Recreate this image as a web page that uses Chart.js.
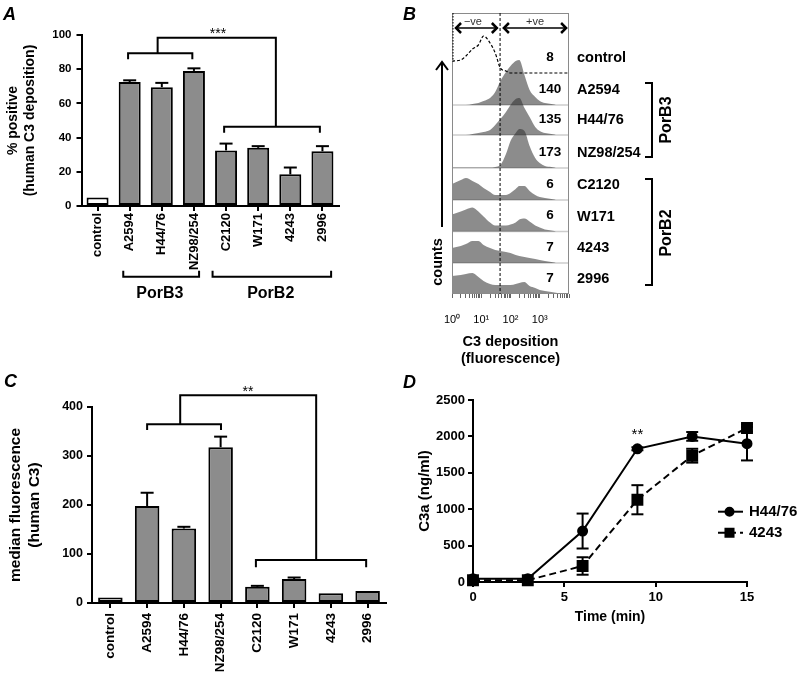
<!DOCTYPE html>
<html>
<head>
<meta charset="utf-8">
<title>C3 deposition on meningococcal PorB3 / PorB2 strains</title>
<script src="https://cdn.jsdelivr.net/npm/chart.js@4.4.1/dist/chart.umd.min.js"></script>
<style>
  html, body { margin: 0; padding: 0; background: #fff; }
  #fig { position: relative; width: 800px; height: 677px; overflow: hidden; background: #fff; }
  #fig canvas { position: absolute; }
</style>
</head>
<body>
<div id="fig">
  <canvas id="chartA" width="400" height="330" style="left:0;top:0"></canvas>
  <canvas id="chartB" width="400" height="370" style="left:400px;top:0"></canvas>
  <canvas id="chartC" width="400" height="347" style="left:0;top:330px"></canvas>
  <canvas id="chartD" width="400" height="347" style="left:400px;top:330px"></canvas>
</div>
<script>
// ---------- data ----------
const strains = ['control', 'A2594', 'H44/76', 'NZ98/254', 'C2120', 'W171', '4243', '2996'];

// A: % positive (human C3 deposition), mean + upper error
const pctPositive = [5, 72.5, 69.5, 79, 32.5, 34, 18.5, 32];
const pctPositiveErr = [0, 1, 2.5, 1.5, 4, 1, 4, 3];

// C: median fluorescence (human C3)
const medianFluor = [11, 198, 152, 318, 33, 49, 20, 24.5];
const medianFluorErr = [0, 27, 3.5, 21.5, 2, 3, 0, 0];

// D: C3a (ng/ml) over time
const timeMin = [0, 3, 6, 9, 12, 15];
const c3aH4476 = [45, 45, 700, 1830, 2000, 1900];
const c3aH4476Err = [0, 0, 240, 20, 60, 230];
const c3a4243 = [25, 25, 220, 1130, 1735, 2115];
const c3a4243Err = [0, 0, 120, 200, 95, 50];

// B: flow cytometry histograms (relative counts per fluorescence bin)
const fluorBins = [1, 2, 3, 5, 8, 12, 20, 30, 45, 70, 100, 150, 200, 300, 450, 700, 1000, 1500, 2500, 4000, 10000];
const histControl = [12, 13, 17, 24, 28, 37, 30, 20, 5, 2, 0, 0, 0, 0, 0, 0, 0, 0, 0, 0, 0];
const histA2594   = [0, 0, 0, 1, 2, 4, 7, 13, 24, 33, 39, 44, 45, 30, 15, 8, 4, 2, 1, 0, 0];
const histH4476   = [0, 0, 0, 1, 2, 3, 5, 10, 16, 23, 30, 36, 37, 27, 18, 8, 4, 2, 1, 0, 0];
const histNZ98    = [0.5, 0.5, 0.5, 0.5, 0.5, 0.5, 0.5, 1, 3, 14, 27, 35, 39, 37, 22, 10, 5, 2, 1, 0, 0];
const histC2120   = [16, 20, 22, 19, 16, 12, 8, 5, 5, 5, 7, 11, 14, 14, 9, 5, 3, 2, 1, 0, 0];
const histW171    = [17, 20, 22, 24, 20, 15, 9, 6, 6, 6, 7, 9, 12, 13, 10, 6, 4, 2, 1, 0, 0];
const hist4243    = [15, 17, 19, 22, 22, 18, 15, 13, 12, 11, 10, 8, 7, 6, 5, 4, 3, 2, 1, 0, 0];
const hist2996    = [18, 19, 20, 21, 17, 13, 10, 9, 9, 9, 9, 10, 11, 12, 8, 6, 4, 3, 2, 1, 0];
const rowOffsets = [221, 189, 159, 126, 94, 62.5, 31, 0];
const medianValues = ['8', '140', '135', '173', '6', '6', '7', '7'];
const gateFluor = 44;
const logTicks = [1, 2, 3, 4, 5, 6, 7, 8, 9, 10, 20, 30, 40, 50, 60, 70, 80, 90, 100,
  200, 300, 400, 500, 600, 700, 800, 900, 1000, 2000, 3000, 4000, 5000, 6000, 7000, 8000, 9000, 10000];
const logTickLabels = { 1: '10\u2070', 10: '10\u00b9', 100: '10\u00b2', 1000: '10\u00b3' };

// ---------- helpers ----------
const FONT = '"Liberation Sans", Arial, Helvetica, sans-serif';
const BAR_FILL = '#8c8c8c';
Chart.defaults.font.family = FONT;
Chart.defaults.color = '#000';
Chart.defaults.animation = false;
Chart.defaults.responsive = false;
Chart.defaults.plugins.legend.display = false;
Chart.defaults.plugins.tooltip.enabled = false;

function font(size, weight = 'bold', style = 'normal') {
  return `${style} ${weight} ${size}px ${FONT}`;
}

function polyline(ctx, pts) {
  ctx.beginPath();
  pts.forEach(([px, py], i) => (i ? ctx.lineTo(px, py) : ctx.moveTo(px, py)));
  ctx.stroke();
}

function text(ctx, str, px, py, opts = {}) {
  ctx.save();
  ctx.font = opts.font || font(14);
  ctx.fillStyle = opts.color || '#000';
  ctx.textAlign = opts.align || 'center';
  ctx.textBaseline = opts.baseline || 'middle';
  ctx.translate(px, py);
  if (opts.rotate) ctx.rotate(opts.rotate);
  ctx.fillText(str, 0, 0);
  ctx.restore();
}

function panelLetter(ctx, letter, px, py) {
  text(ctx, letter, px, py, { font: font(18, 'bold', 'italic'), align: 'left', baseline: 'alphabetic' });
}

// error bars for bar and line charts (drawn under the marks)
const errorBars = {
  id: 'errorBars',
  beforeDatasetsDraw(chart) {
    const { ctx } = chart;
    const yScale = chart.scales.y;
    chart.data.datasets.forEach((ds, di) => {
      if (!ds.errors) return;
      const meta = chart.getDatasetMeta(di);
      ctx.save();
      ctx.strokeStyle = '#000';
      ctx.lineWidth = 2;
      meta.data.forEach((el, i) => {
        const err = ds.errors[i];
        if (!err) return;
        const v = typeof ds.data[i] === 'number' ? ds.data[i] : ds.data[i].y;
        const top = yScale.getPixelForValue(v + err);
        const bottom = ds.twoSided ? yScale.getPixelForValue(v - err) : el.y;
        const half = ds.capHalf || 6.5;
        polyline(ctx, [[el.x, bottom], [el.x, top]]);
        polyline(ctx, [[el.x - half, top], [el.x + half, top]]);
        if (ds.twoSided) polyline(ctx, [[el.x - half, bottom], [el.x + half, bottom]]);
      });
      ctx.restore();
    });
  }
};

function barScales(o) {
  return {
    x: {
      grid: { display: true, drawOnChartArea: false, drawTicks: true, tickLength: 5, offset: false, color: '#000', lineWidth: 2 },
      border: { display: true, color: '#000', width: 2 },
      ticks: { autoSkip: false, minRotation: 90, maxRotation: 90, padding: o.xPad, font: { size: o.xFont, weight: 'bold' } },
      afterFit(s) { s.height = o.xHeight; }
    },
    y: {
      min: 0, max: o.yMax,
      grid: { drawOnChartArea: false, tickLength: 5, color: '#000', lineWidth: 2 },
      border: { color: '#000', width: 2 },
      ticks: { stepSize: o.yStep, padding: o.yPad, font: { size: o.yFont, weight: 'bold' } },
      title: { display: true, text: o.title, font: { size: o.titleFont, weight: 'bold' }, padding: { top: o.titlePad, bottom: 0 } },
      afterFit(s) { s.width = o.yWidth; }
    }
  };
}

// ---------- panel A ----------
const panelAMarks = {
  id: 'panelAMarks',
  afterDraw(chart) {
    const { ctx, chartArea: a, scales: { x, y } } = chart;
    const X = v => x.getPixelForValue(v), Y = v => y.getPixelForValue(v);
    ctx.save();
    ctx.strokeStyle = '#000';
    ctx.lineWidth = 2;
    polyline(ctx, [[X(0.95), Y(85.8)], [X(0.95), Y(89.3)], [X(2.95), Y(89.3)], [X(2.95), Y(85.8)]]);
    polyline(ctx, [[X(1.87), Y(89.3)], [X(1.87), Y(98.4)], [X(5.55), Y(98.4)], [X(5.55), Y(46.4)]]);
    polyline(ctx, [[X(3.94), Y(42.9)], [X(3.94), Y(46.4)], [X(6.92), Y(46.4)], [X(6.92), Y(42.9)]]);
    text(ctx, '***', X(3.75), Y(98.4), { font: font(14, 'normal'), baseline: 'alphabetic' });
    // strain groups under the axis
    const gy = a.bottom + 70.7, gt = a.bottom + 64.7;
    polyline(ctx, [[X(0.8), gt], [X(0.8), gy], [X(3.16), gy], [X(3.16), gt]]);
    polyline(ctx, [[X(3.58), gt], [X(3.58), gy], [X(7.27), gy], [X(7.27), gt]]);
    text(ctx, 'PorB3', X(1.94), a.bottom + 88, { font: font(16) });
    text(ctx, 'PorB2', X(5.39), a.bottom + 88, { font: font(16) });
    panelLetter(ctx, 'A', 3, 20);
    ctx.restore();
  }
};

new Chart(document.getElementById('chartA'), {
  type: 'bar',
  data: {
    labels: strains,
    datasets: [{
      data: pctPositive,
      errors: pctPositiveErr,
      backgroundColor: strains.map((s, i) => (i === 0 ? '#fff' : BAR_FILL)),
      borderColor: '#000',
      borderWidth: 2,
      borderSkipped: false,
      barPercentage: 0.685,
      categoryPercentage: 1
    }]
  },
  options: {
    layout: { padding: { left: 0, top: 35, right: 61.5, bottom: 0 } },
    scales: barScales({
      xPad: 2, xFont: 13, xHeight: 124,
      yMax: 100, yStep: 20, yPad: 5, yFont: 11.5,
      title: ['% positive', '(human C3 deposition)'], titleFont: 14, titlePad: 4.6, yWidth: 81.5
    })
  },
  plugins: [errorBars, panelAMarks]
});

// ---------- panel B ----------
const histograms = [histControl, histA2594, histH4476, histNZ98, histC2120, histW171, hist4243, hist2996];
const histDatasets = histograms.map((h, i) => {
  const pts = fluorBins.map((f, j) => ({ x: f, y: rowOffsets[i] + h[j] }));
  if (i === 0) {
    return { data: pts, borderColor: '#000', borderWidth: 1.2, borderDash: [3, 2], fill: false,
      pointRadius: 0, cubicInterpolationMode: 'monotone' };
  }
  return { data: pts, borderColor: 'transparent', backgroundColor: 'rgba(45,45,45,0.55)',
    fill: { value: rowOffsets[i] }, pointRadius: 0, cubicInterpolationMode: 'monotone' };
});

function doubleArrow(ctx, x0, x1, py) {
  ctx.lineWidth = 1.5;
  polyline(ctx, [[x0, py], [x1, py]]);
  ctx.lineWidth = 2.5;
  polyline(ctx, [[x0 + 6, py - 5], [x0 + 1, py], [x0 + 6, py + 5]]);
  polyline(ctx, [[x1 - 6, py - 5], [x1 - 1, py], [x1 - 6, py + 5]]);
}

function sideBracket(ctx, bx, y0, y1) {
  ctx.lineWidth = 2;
  polyline(ctx, [[bx - 7, y0], [bx, y0], [bx, y1], [bx - 7, y1]]);
}

const panelBMarks = {
  id: 'panelBMarks',
  beforeDatasetsDraw(chart) {
    const { ctx, chartArea: a, scales: { y } } = chart;
    ctx.save();
    ctx.strokeStyle = '#cdcdcd';
    ctx.lineWidth = 1.5;
    rowOffsets.slice(1, 7).forEach(b => {
      const py = y.getPixelForValue(b);
      polyline(ctx, [[a.left, py], [a.right, py]]);
    });
    ctx.restore();
  },
  afterDatasetsDraw(chart) {
    const { ctx, chartArea: a, scales: { x, y } } = chart;
    const X = v => x.getPixelForValue(v), Y = v => y.getPixelForValue(v);
    ctx.save();
    ctx.strokeStyle = '#8a8a8a';
    ctx.lineWidth = 1;
    ctx.strokeRect(a.left + 0.5, a.top + 0.5, a.right - a.left - 1, a.bottom - a.top - 1);
    ctx.strokeStyle = '#000';
    ctx.setLineDash([3, 2]);
    polyline(ctx, [[X(gateFluor), a.top], [X(gateFluor), a.bottom]]);
    ctx.setLineDash([1.5, 1.5]);
    polyline(ctx, [[a.left + 1, a.top], [a.left + 1, Y(232)]]);
    ctx.setLineDash([]);
    doubleArrow(ctx, X(1.27), X(37), Y(266));
    doubleArrow(ctx, X(55), X(8600), Y(266));
    text(ctx, '\u2212ve', X(5.2), Y(272), { font: font(11, 'normal'), color: '#333' });
    text(ctx, '+ve', X(690), Y(272), { font: font(11, 'normal'), color: '#333' });
    strains.forEach((s, i) => {
      text(ctx, medianValues[i], a.right - 19, Y(rowOffsets[i] + 16), { font: font(13.5) });
      text(ctx, s, a.right + 8, Y(rowOffsets[i] + 15), { font: font(14.5), align: 'left' });
    });
    sideBracket(ctx, a.right + 83, Y(211), Y(137));
    sideBracket(ctx, a.right + 83, Y(115), Y(9));
    text(ctx, 'PorB3', a.right + 98, Y(174), { font: font(16), rotate: -Math.PI / 2 });
    text(ctx, 'PorB2', a.right + 98, Y(61), { font: font(16), rotate: -Math.PI / 2 });
    // counts arrow
    ctx.lineWidth = 2;
    polyline(ctx, [[a.left - 10, Y(67)], [a.left - 10, Y(232)]]);
    polyline(ctx, [[a.left - 16, Y(232) + 8], [a.left - 10, Y(232)], [a.left - 4, Y(232) + 8]]);
    text(ctx, 'counts', a.left - 14, Y(32), { font: font(14.5), rotate: -Math.PI / 2 });
    panelLetter(ctx, 'B', 3, 20);
    ctx.restore();
  }
};

new Chart(document.getElementById('chartB'), {
  type: 'line',
  data: { datasets: histDatasets },
  options: {
    layout: { padding: { left: 52, top: 13, right: 231, bottom: 0 } },
    scales: {
      x: {
        type: 'logarithmic', min: 1, max: 10000,
        grid: { drawOnChartArea: false, drawTicks: true, tickLength: 4, color: '#666', lineWidth: 1 },
        border: { display: false },
        afterBuildTicks(s) { s.ticks = logTicks.map(v => ({ value: v })); },
        ticks: { autoSkip: false, maxRotation: 0, padding: 15, font: { size: 11, weight: 'normal' },
          callback: v => logTickLabels[v] || '' },
        title: { display: true, text: ['C3 deposition', '(fluorescence)'], font: { size: 14.5, weight: 'bold' },
          padding: { top: 0, bottom: 1.9 } },
        afterFit(s) { s.height = 76; }
      },
      y: { display: false, min: 0, max: 281 }
    }
  },
  plugins: [panelBMarks]
});

// ---------- panel C ----------
const panelCMarks = {
  id: 'panelCMarks',
  afterDraw(chart) {
    const { ctx, scales: { x, y } } = chart;
    const X = v => x.getPixelForValue(v), Y = v => y.getPixelForValue(v);
    ctx.save();
    ctx.strokeStyle = '#000';
    ctx.lineWidth = 2;
    polyline(ctx, [[X(1.0), Y(353)], [X(1.0), Y(364.7)], [X(3.01), Y(364.7)], [X(3.01), Y(353)]]);
    polyline(ctx, [[X(1.9), Y(364.7)], [X(1.9), Y(424)], [X(5.6), Y(424)], [X(5.6), Y(87.8)]]);
    polyline(ctx, [[X(3.96), Y(72.9)], [X(3.96), Y(87.8)], [X(6.96), Y(87.8)], [X(6.96), Y(72.9)]]);
    text(ctx, '**', X(3.745), Y(424) + 1, { font: font(14, 'normal'), baseline: 'alphabetic' });
    panelLetter(ctx, 'C', 4, 57);
    ctx.restore();
  }
};

new Chart(document.getElementById('chartC'), {
  type: 'bar',
  data: {
    labels: strains,
    datasets: [{
      data: medianFluor,
      errors: medianFluorErr,
      backgroundColor: strains.map((s, i) => (i === 0 ? '#fff' : BAR_FILL)),
      borderColor: '#000',
      borderWidth: 2,
      borderSkipped: false,
      barPercentage: 0.667,
      categoryPercentage: 1
    }]
  },
  options: {
    layout: { padding: { left: 0, top: 77, right: 14, bottom: 0 } },
    scales: barScales({
      xPad: 5, xFont: 13.5, xHeight: 74,
      yMax: 400, yStep: 100, yPad: 4, yFont: 12.5,
      title: ['median fluorescence', '(human C3)'], titleFont: 15.5, titlePad: 6.7, yWidth: 92
    })
  },
  plugins: [errorBars, panelCMarks]
});

// ---------- panel D ----------
const panelDMarks = {
  id: 'panelDMarks',
  afterDraw(chart) {
    const { ctx, chartArea: a, scales: { x, y } } = chart;
    text(ctx, '**', x.getPixelForValue(9), y.getPixelForValue(1970), { font: font(15, 'normal'), baseline: 'alphabetic' });
    chart.data.datasets.forEach((ds, i) => {
      const py = a.top + 111.7 + i * 21;
      ctx.save();
      ctx.strokeStyle = '#000';
      ctx.fillStyle = '#000';
      ctx.lineWidth = 2;
      ctx.setLineDash(ds.borderDash || []);
      polyline(ctx, [[a.right - 29, py], [a.right - 4, py]]);
      ctx.setLineDash([]);
      Chart.helpers.drawPoint(ctx, { pointStyle: ds.pointStyle, radius: ds.legendRadius, rotation: 0, borderWidth: 1 },
        a.right - 17.5, py);
      ctx.restore();
      text(ctx, ds.label, a.right + 2, py, { font: font(15), align: 'left' });
    });
    panelLetter(ctx, 'D', 3, 58);
  }
};

new Chart(document.getElementById('chartD'), {
  type: 'line',
  data: {
    datasets: [
      {
        label: 'H44/76',
        data: timeMin.map((t, i) => ({ x: t, y: c3aH4476[i] })),
        errors: c3aH4476Err, twoSided: true, capHalf: 6,
        borderColor: '#000', backgroundColor: '#000', borderWidth: 2,
        pointStyle: 'circle', pointRadius: 4.5, legendRadius: 4, tension: 0, clip: false
      },
      {
        label: '4243',
        data: timeMin.map((t, i) => ({ x: t, y: c3a4243[i] })),
        errors: c3a4243Err, twoSided: true, capHalf: 6,
        borderColor: '#000', backgroundColor: '#000', borderWidth: 2, borderDash: [7, 4],
        pointStyle: 'rect', pointRadius: 7, legendRadius: 5.7, tension: 0, clip: false
      }
    ]
  },
  options: {
    layout: { padding: { left: 0, top: 70, right: 53, bottom: 0 } },
    scales: {
      x: {
        type: 'linear', min: 0, max: 15,
        grid: { drawOnChartArea: false, tickLength: 5, color: '#000', lineWidth: 2 },
        border: { color: '#000', width: 2 },
        ticks: { stepSize: 5, padding: 3, font: { size: 13, weight: 'bold' }, callback: v => String(v) },
        title: { display: true, text: 'Time (min)', font: { size: 14, weight: 'bold' }, padding: { top: 0, bottom: 51.9 } },
        afterFit(s) { s.height = 95; }
      },
      y: {
        min: 0, max: 2500,
        grid: { drawOnChartArea: false, tickLength: 5, color: '#000', lineWidth: 2 },
        border: { color: '#000', width: 2 },
        ticks: { stepSize: 500, padding: 3, font: { size: 13, weight: 'bold' }, callback: v => String(v) },
        title: { display: true, text: 'C3a (ng/ml)', font: { size: 15, weight: 'bold' }, padding: { top: 16, bottom: 0 } },
        afterFit(s) { s.width = 73; }
      }
    }
  },
  plugins: [errorBars, panelDMarks]
});
</script>
</body>
</html>
